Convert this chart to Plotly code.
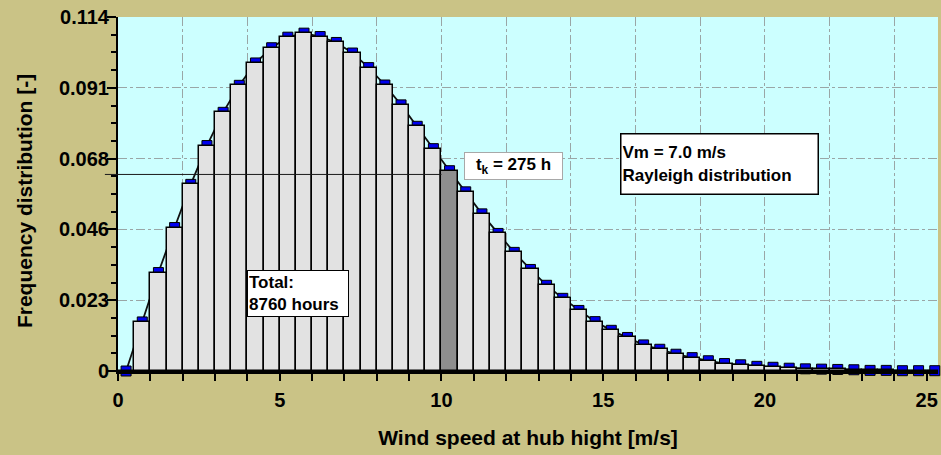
import plotly.graph_objects as go

# ---- data ----
wind_speed = [0.25 + 0.5 * i for i in range(51)]
frequency = [
    0.0, 0.0158, 0.0317, 0.0462, 0.0601, 0.0726, 0.0833, 0.0920, 0.0992, 0.1041,
    0.1075, 0.1088, 0.1077, 0.1058, 0.1024, 0.0977, 0.0921, 0.0857, 0.0788, 0.0716,
    0.0645, 0.0577, 0.0506, 0.0443, 0.0382, 0.0327, 0.0276, 0.0234, 0.0195, 0.0159,
    0.0131, 0.0108, 0.0084, 0.0070, 0.0054, 0.0043, 0.0033, 0.0024, 0.0020, 0.0015,
    0.0012, 0.0009, 0.0007, 0.0006, 0.0005, 0.0004, 0.0002, 0.0002, 0.0001, 0.0001,
    0.0001,
]
highlight_speed = 10.25
tk_level = 0.0633
y_tickvals = [0, 0.0228, 0.0456, 0.0684, 0.0912, 0.114]
y_ticktext = ["0", "0.023", "0.046", "0.068", "0.091", "0.114"]
x_tickvals = list(range(0, 26))
x_ticktext = [str(v) if v % 5 == 0 else "" for v in x_tickvals]
x_gridvals = list(range(0, 26, 2))

X_RANGE = [0, 25.35]
Y_RANGE = [0, 0.114]

FONT = "Liberation Sans, Arial, sans-serif"
PAPER = "#CAC386"
bar_colors = ["#8E8E8E" if s == highlight_speed else "#E2E2E2" for s in wind_speed]

fig = go.Figure()

# line + markers (drawn underneath the bars)
fig.add_trace(go.Scatter(
    x=wind_speed, y=frequency, mode="lines+markers",
    line=dict(color="#111111", width=1.8),
    marker=dict(symbol="square", size=10, color="#0000F0",
                line=dict(color="#000000", width=1)),
    cliponaxis=False, xaxis="x", yaxis="y", showlegend=False,
))

# bars on overlaying axes so they sit above the markers
fig.add_trace(go.Bar(
    x=wind_speed, y=frequency, width=0.5,
    marker=dict(color=bar_colors, line=dict(color="#000000", width=1.5)),
    xaxis="x2", yaxis="y2", showlegend=False,
))

tick_font = dict(family=FONT, size=20, color="#000000", weight="bold")
title_font = dict(family=FONT, size=21, color="#000000", weight="bold")

fig.update_layout(
    width=941, height=455,
    margin=dict(l=118, r=3, t=17, b=84, autoexpand=False),
    paper_bgcolor=PAPER,
    plot_bgcolor="#CCFFFF",
    xaxis=dict(
        range=X_RANGE, tickmode="array", tickvals=x_tickvals, ticktext=x_ticktext,
        ticks="outside", ticklen=7, tickwidth=2, tickcolor="#000000",
        showline=True, linecolor="#000000", linewidth=3,
        showgrid=False, zeroline=False, tickfont=tick_font,
        ticklabelstandoff=2, automargin=False,
        title=dict(text="Wind speed at hub hight [m/s]", font=title_font, standoff=21),
    ),
    yaxis=dict(
        range=Y_RANGE, tickmode="array", tickvals=y_tickvals, ticktext=y_ticktext,
        ticks="outside", ticklen=9, tickwidth=2, tickcolor="#000000",
        minor=dict(dtick=0.0057, tick0=0, ticks="outside", ticklen=5,
                   tickwidth=2, tickcolor="#000000", showgrid=False),
        showline=True, linecolor="#000000", linewidth=2,
        showgrid=False, zeroline=False, tickfont=tick_font, automargin=False,
        ticklabelstandoff=-6,
    ),
    xaxis2=dict(
        overlaying="x", matches="x", range=X_RANGE, tickmode="array",
        tickvals=x_gridvals, showticklabels=False, ticks="",
        showline=False, zeroline=False, showgrid=True, automargin=False,
        gridcolor="#9AA6A6", gridwidth=1, griddash="dashdot",
    ),
    yaxis2=dict(
        overlaying="y", matches="y", range=Y_RANGE, tickmode="array",
        tickvals=y_tickvals, showticklabels=False, ticks="",
        showline=False, zeroline=False, showgrid=True, automargin=False,
        gridcolor="#9AA6A6", gridwidth=1, griddash="dashdot",
    ),
    bargap=0,
)

# y-axis title as rotated annotation (placed close to the left edge)
fig.add_annotation(
    xref="paper", yref="paper", x=-0.1146, y=0.48, xanchor="center", yanchor="middle",
    text="Frequency distribution [-]", textangle=-90, showarrow=False, font=title_font,
)

# horizontal marker line from y-axis to highlighted bar
x_hi_left = (highlight_speed - 0.25 - X_RANGE[0]) / (X_RANGE[1] - X_RANGE[0])
fig.add_shape(type="line", xref="paper", yref="y",
              x0=-0.016, x1=x_hi_left, y0=tk_level, y1=tk_level,
              line=dict(color="#1A1A1A", width=1), layer="above")

box_font = dict(family=FONT, size=17, color="#000000", weight="bold")

fig.add_annotation(
    xref="paper", yref="paper", x=0.422, y=0.619, xanchor="left", yanchor="top",
    text="t<sub>k</sub> = 275 h", showarrow=False, font=box_font,
    bgcolor="#FFFFFF", bordercolor="#A8A8A8", borderwidth=1, borderpad=1,
    width=95, height=24, align="center", valign="middle",
)
fig.add_annotation(
    xref="paper", yref="paper", x=0.612, y=0.672, xanchor="left", yanchor="top",
    text="Vm = 7.0 m/s<br>Rayleigh distribution", showarrow=False, font=box_font,
    bgcolor="#FFFFFF", bordercolor="#000000", borderwidth=1.5, borderpad=1,
    width=194, height=57, align="left", valign="middle",
)
fig.add_annotation(
    xref="paper", yref="paper", x=0.157, y=0.285, xanchor="left", yanchor="top",
    text="Total:<br>8760 hours", showarrow=False, font=box_font,
    bgcolor="#FFFFFF", bordercolor="#000000", borderwidth=1, borderpad=1,
    width=98, height=43, align="left", valign="middle",
)

fig.write_html(
    "out.html",
    config={"displayModeBar": False},
    post_script="document.body.style.margin='0';document.body.style.background='" + PAPER + "';",
)
